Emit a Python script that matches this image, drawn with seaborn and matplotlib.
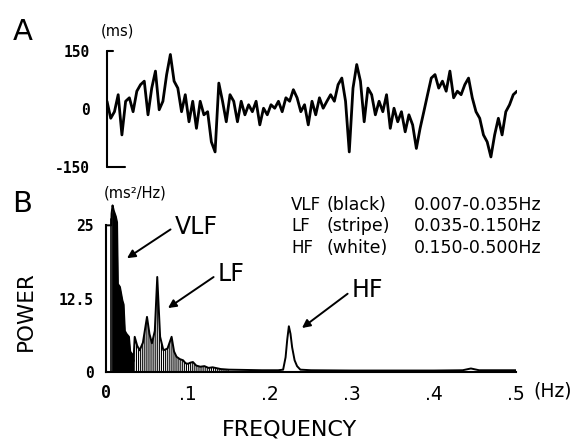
import matplotlib
matplotlib.use("Agg")
import matplotlib.pyplot as plt
import seaborn as sns
import numpy as np

# ---- Panel A: R-R interval deviation (ms) ----
rr_dev = [20, -24, -7, 37, -67, 20, 29, -7, 46, 63, 72, -15, 54, 98, -2, 20,
          89, 141, 72, 54, -7, 37, -33, 20, -50, 20, -15, -7, -85, -111, 67, 20,
          -33, 37, 20, -33, 20, -15, 11, -7, 20, -41, 2, -15, 11, 2, 20, -7,
          29, 20, 50, 29, -7, 11, -41, 20, -15, 29, 2, 20, 37, 20, 63, 80,
          20, -111, 54, 115, 72, -33, 54, 37, -15, 20, -7, 37, -50, 2, -33, -7,
          -59, -15, -41, -102, -50, -7, 37, 80, 89, 54, 72, 46, 98, 29, 46, 37,
          63, 80, 29, -7, -24, -67, -85, -124, -67, -24, -67, -7, 11, 37, 46]
rr_ticks = [-150, 0, 150]

# ---- Panel B: power spectrum (ms^2/Hz) ----
freq = [0.0, 0.0064, 0.0068, 0.008, 0.0095, 0.012, 0.0135, 0.0145, 0.017, 0.020,
        0.0215, 0.023, 0.025, 0.028, 0.0295, 0.032, 0.0335, 0.035, 0.038, 0.041,
        0.045, 0.050, 0.053, 0.056, 0.0595, 0.0625, 0.066, 0.070, 0.075, 0.080,
        0.083, 0.086, 0.090, 0.094, 0.097, 0.100, 0.103, 0.106, 0.110, 0.115,
        0.120, 0.125, 0.130, 0.140, 0.150, 0.170, 0.190, 0.210, 0.216, 0.219,
        0.221, 0.223, 0.225, 0.227, 0.230, 0.233, 0.237, 0.250, 0.300, 0.350,
        0.400, 0.435, 0.445, 0.455, 0.500]
power = [25.0, 25.0, 27.0, 28.4, 27.5, 26.5, 25.5, 15.0, 14.5, 12.2,
         11.5, 7.0, 6.5, 6.0, 3.5, 3.0, 1.8, 6.0, 4.5, 3.7,
         5.0, 9.4, 6.5, 4.9, 7.0, 16.2, 6.0, 3.7, 4.0, 6.0,
         3.5, 2.6, 2.2, 2.0, 1.5, 1.4, 1.6, 1.7, 1.1, 0.9,
         1.0, 0.7, 0.8, 0.5, 0.4, 0.35, 0.3, 0.3, 0.4, 2.5,
         5.5, 7.8, 6.5, 4.2, 2.0, 1.0, 0.4, 0.3, 0.25, 0.25,
         0.25, 0.3, 0.6, 0.3, 0.3]
vlf_band = (0.0066, 0.035)
lf_band = (0.035, 0.150)
freq_ticks = [0, 0.1, 0.2, 0.3, 0.4, 0.5]
freq_labels = ["0", ".1", ".2", ".3", ".4", ".5"]
power_ticks = [0, 12.5, 25]
power_labels = ["0", "12.5", "25"]

band_rows = [("VLF", "(black)", "0.007-0.035Hz"),
             ("LF", "(stripe)", "0.035-0.150Hz"),
             ("HF", "(white)", "0.150-0.500Hz")]

sns.set_theme(style="white")
plt.rcParams["font.family"] = ["DejaVu Sans"]
plt.rcParams["hatch.linewidth"] = 0.8
for key in ("text.color", "axes.labelcolor", "xtick.color", "ytick.color",
            "axes.edgecolor"):
    plt.rcParams[key] = "black"

W, H = 578, 446
fig = plt.figure(figsize=(W / 100, H / 100), dpi=100)
fig.patch.set_facecolor("white")


def fx(px):
    return px / W


def fy(py):
    return 1 - py / H


tick_font = dict(family="DejaVu Sans Mono", weight="bold", size=10.5)

# ---------------- Panel A ----------------
axA = fig.add_axes([fx(107), fy(167), fx(517) - fx(107), fy(51) - fy(167)])
t = np.arange(len(rr_dev))
sns.lineplot(x=t, y=rr_dev, ax=axA, color="black", linewidth=2.0)
axA.set_xlim(0, len(rr_dev) - 1)
axA.set_ylim(-150, 150)
for s in axA.spines.values():
    s.set_visible(False)
axA.set_xticks([])
axA.set_yticks(rr_ticks)
axA.set_yticklabels([str(v) for v in rr_ticks], fontdict=tick_font)
axA.tick_params(axis="y", length=0, pad=12)
ytr = axA.get_yaxis_transform()
axA.plot([0, 0], [-150, 150], color="black", lw=1.5, transform=ytr, clip_on=False)
axA.plot([0, 0.015], [150, 150], color="black", lw=1.5, transform=ytr, clip_on=False)
axA.plot([0, 0.045], [-150, -150], color="black", lw=1.5, transform=ytr, clip_on=False)
axA.set_xlabel("")
axA.set_ylabel("")

fig.text(fx(23), fy(32), "A", fontsize=21, ha="center", va="center")
fig.text(fx(117), fy(31), "(ms)", fontsize=10.5, ha="center", va="center")

# ---------------- Panel B ----------------
axB = fig.add_axes([fx(106), fy(372), fx(516) - fx(106), fy(196) - fy(372)])
f = np.array(freq)
p = np.array(power)
axB.fill_between(f, 0, p, where=(f >= vlf_band[0]) & (f <= vlf_band[1]),
                 color="black", linewidth=0)
axB.fill_between(f, 0, p, where=(f >= lf_band[0]) & (f <= lf_band[1]),
                 facecolor="white", edgecolor="black", hatch="|" * 8, linewidth=0)
sns.lineplot(x=f, y=p, ax=axB, color="black", linewidth=1.4)
axB.plot([vlf_band[0], vlf_band[0]], [0, np.interp(vlf_band[0], f, p)],
         color="black", lw=1.2)
axB.set_xlim(0, 0.5)
axB.set_ylim(0, 30)
axB.spines["top"].set_visible(False)
axB.spines["right"].set_visible(False)
axB.spines["left"].set_bounds(0, 25)
axB.spines["bottom"].set_bounds(0, 0.5)
for s in ("left", "bottom"):
    axB.spines[s].set_color("black")
    axB.spines[s].set_linewidth(1.5)
axB.set_xticks(freq_ticks)
axB.set_xticklabels(freq_labels, fontsize=13.5)
axB.get_xticklabels()[0].set_fontproperties(
    matplotlib.font_manager.FontProperties(family="DejaVu Sans Mono", weight="bold", size=12))
axB.set_yticks(power_ticks)
axB.set_yticklabels(power_labels, fontdict=tick_font)
axB.tick_params(axis="x", direction="in", length=5, width=1.2, pad=9, colors="black")
axB.tick_params(axis="y", direction="in", length=4, width=1.2, pad=9, colors="black")
axB.set_xlabel("")
axB.set_ylabel("")

fig.text(fx(533), fy(391), "(Hz)", fontsize=13.5, ha="left", va="center")
fig.text(fx(22), fy(204), "B", fontsize=21, ha="center", va="center")
fig.text(fx(135), fy(193), "(ms²/Hz)", fontsize=10.5, ha="center", va="center")
fig.text(fx(26), fy(311), "POWER", fontsize=15.5, rotation=90, ha="center", va="center")
fig.text(fx(290), fy(430), "FREQUENCY", fontsize=16, ha="center", va="center")

arrow = dict(arrowstyle="-|>", color="black", lw=1.4, mutation_scale=12,
             shrinkA=1, shrinkB=0, relpos=(0, 0.5))
axB.annotate("VLF", xy=(0.0256, 19.4), xytext=(0.0841, 24.8), fontsize=17,
             ha="left", va="center", arrowprops=arrow)
axB.annotate("LF", xy=(0.0756, 10.9), xytext=(0.1366, 16.7), fontsize=17,
             ha="left", va="center", arrowprops=arrow)
axB.annotate("HF", xy=(0.239, 7.5), xytext=(0.300, 13.9), fontsize=17,
             ha="left", va="center", arrowprops=arrow)

for i, (name, tag, rng) in enumerate(band_rows):
    yy = fy(205 + 21.5 * i)
    fig.text(fx(291), yy, name, fontsize=12, ha="left", va="center")
    fig.text(fx(327), yy, tag, fontsize=12.5, ha="left", va="center")
    fig.text(fx(414), yy, rng, fontsize=12.5, ha="left", va="center")

fig.savefig("out.png", dpi=100, facecolor="white")
